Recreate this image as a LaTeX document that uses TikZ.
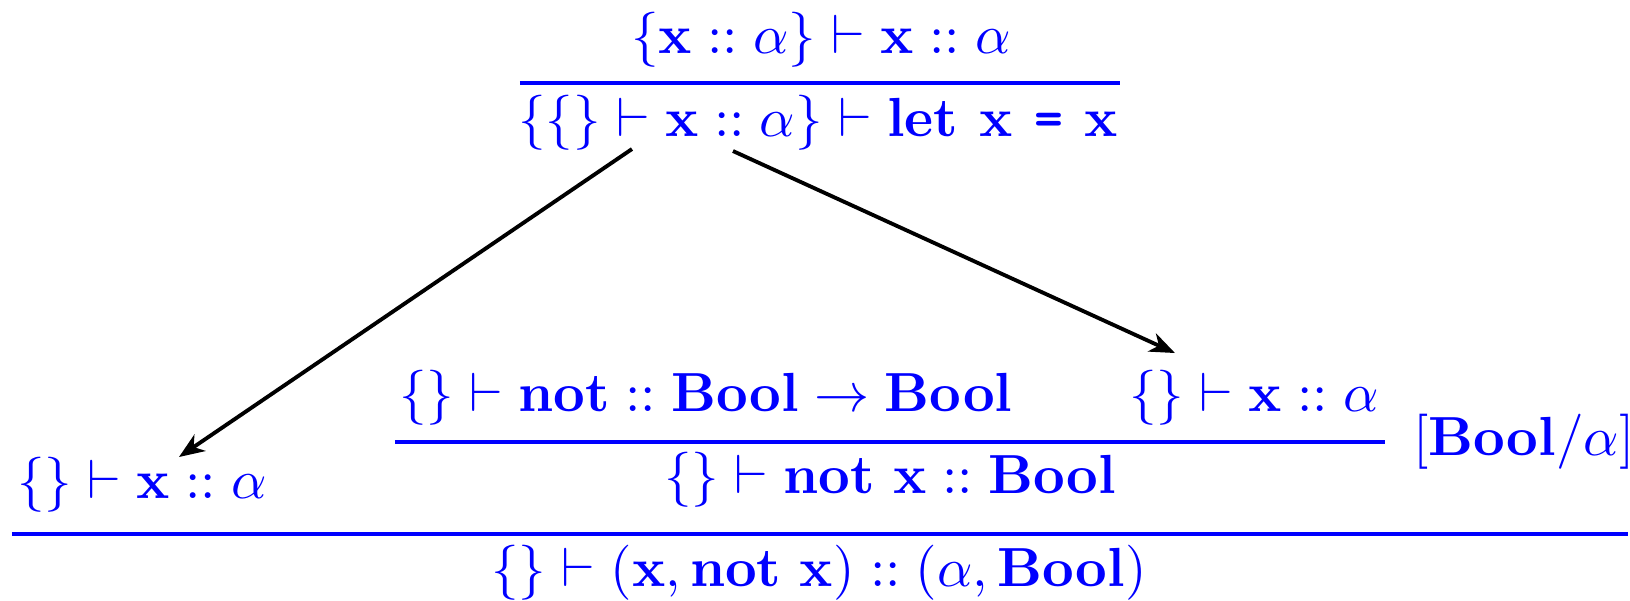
\documentclass[tikz,border=0pt]{standalone}
\usetikzlibrary{arrows.meta}
\definecolor{rb}{RGB}{0,0,255}
\begin{document}
\tikzset{
  txt/.style={text=rb, inner sep=0pt, anchor=base, font=\fontsize{10}{12}\selectfont},
  rulel/.style={draw=rb, line width=0.65pt},
  arr/.style={draw=black, line width=0.7pt, -{Stealth[length=4.6pt,width=3.6pt,inset=1.4pt]}},
}
\begin{tikzpicture}[x=0.1815pt,y=-0.1815pt]
\useasboundingbox (0,0) rectangle (1630,600);
% top fraction
\node[txt] (tn) at (821,53) {$\{\mathbf{x} :: \alpha\} \vdash \mathbf{x} :: \alpha$};
\coordinate (tra) at (520,83);
\coordinate (trb) at (1120,83);
\draw[rulel] (tra) -- (trb);
\node[txt] (td) at (818,136) {$\{\{\} \vdash \mathbf{x} :: \alpha\} \vdash \textbf{let x {\ttfamily\bfseries =} x}$};
% left leaf
\node[txt, anchor=base west] (lx) at (16,498) {$\{\} \vdash \mathbf{x} :: \alpha$};
% inner fraction
\node[txt, anchor=base west] (inl) at (398,411) {$\{\} \vdash \mathbf{not} :: \mathbf{Bool} \rightarrow \mathbf{Bool}$};
\node[txt, anchor=base east] (inr) at (1380,411) {$\{\} \vdash \mathbf{x} :: \alpha$};
\coordinate (ira) at (395,442);
\coordinate (irb) at (1385,442);
\draw[rulel] (ira) -- (irb);
\node[txt] (ind) at (890,493) {$\{\} \vdash \mathbf{not\ x} :: \mathbf{Bool}$};
\node[txt, anchor=base west] (lab) at (1412,455) {$[\mathbf{Bool}/\alpha]$};
% bottom fraction
\coordinate (bra) at (12,534);
\coordinate (brb) at (1628,534);
\draw[rulel] (bra) -- (brb);
\node[txt] (bd) at (819,586) {$\{\} \vdash (\mathbf{x}, \mathbf{not\ x}) :: (\alpha, \mathbf{Bool})$};
% arrows
\coordinate (a1s) at (632,149);
\coordinate (a1e) at (179,457);
\coordinate (a2s) at (733,151);
\coordinate (a2e) at (1175,353);
\draw[arr] (a1s) -- (a1e);
\draw[arr] (a2s) -- (a2e);
\end{tikzpicture}
\end{document}
